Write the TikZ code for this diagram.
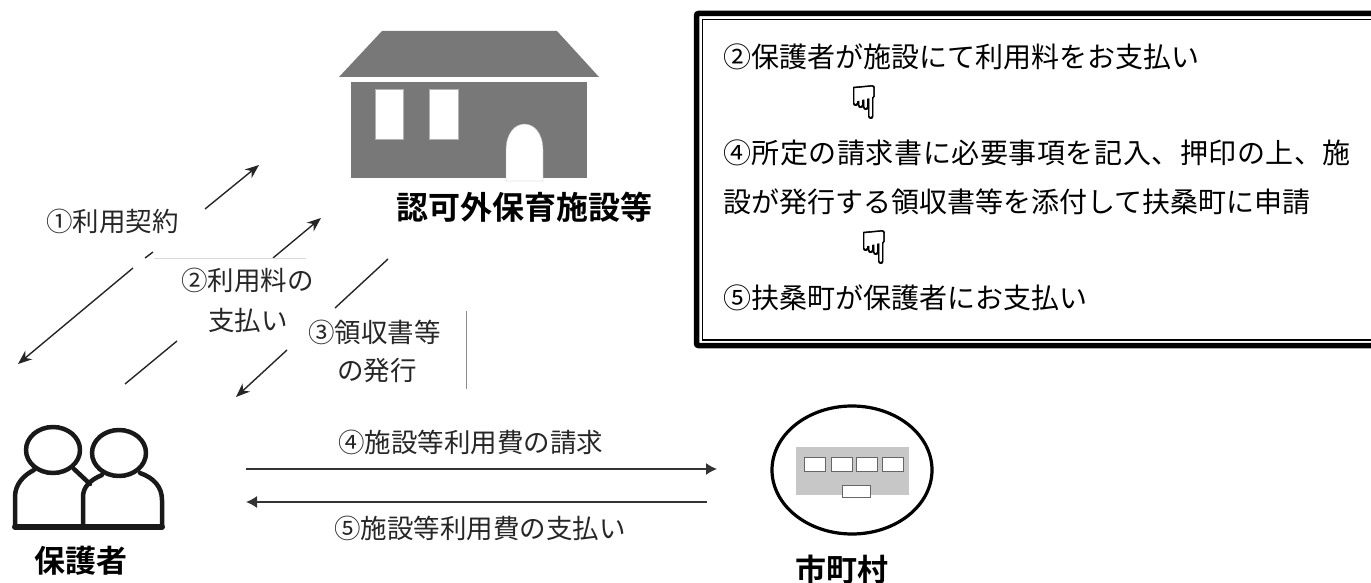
\documentclass[tikz,border=0pt]{standalone}
\usepackage{fontspec}
\newfontfamily\jp[BoldFont={Noto Sans CJK JP Bold}]{Noto Sans CJK JP}
\newfontfamily\handfont[FakeBold=1.2]{DejaVu Sans}
\usetikzlibrary{arrows.meta}
\tikzset{
  lbl/.style={inner sep=0pt,anchor=west,font=\jp\fontsize{26.5}{30}\selectfont,text=black!85},
  boxtext/.style={inner sep=0pt,anchor=west,font=\jp\fontsize{28}{30}\selectfont,text=black},
  title/.style={inner sep=0pt,anchor=west,font=\jp\bfseries\fontsize{32}{36}\selectfont},
  titlesm/.style={inner sep=0pt,anchor=west,font=\jp\bfseries\fontsize{31}{36}\selectfont},
  hand/.style={inner sep=0pt,font=\handfont\fontsize{46}{46}\selectfont},
  flow/.style={line width=1.4pt,draw=black!85},
  flowtip/.style={flow,-{Stealth[length=14pt,width=11pt]}},
  hflow/.style={line width=1.4pt,draw=black!80,-{Latex[length=11pt,width=12pt]}},
  house/.style={fill=black!53,draw=none},
  hole/.style={fill=white,draw=black!30,line width=.4pt},
  person/.style={line width=4.5pt,draw=black!90,line join=round},
  thin/.style={line width=.7pt,draw=black!45}
}
\begin{document}
\begin{tikzpicture}[x=1pt,y=-1pt]
\useasboundingbox (0,0) rectangle (1371,583);
% house
\fill[house] (382,31) -- (557,31) -- (599,77) -- (339,77) -- cycle;
\fill[house] (351,82) rectangle (587,178);
\filldraw[hole] (375,89) rectangle (403,139);
\filldraw[hole] (429,89) rectangle (458,139);
\filldraw[hole] (506,181) -- (506,150) .. controls (506,133) and (515,124) .. (524.5,124) .. controls (534,124) and (543,133) .. (543,150) -- (543,181) -- cycle;
\node[title] (fac) at (396,207) {認可外保育施設等};
% diagonal flows
\coordinate (a1s) at (205,209); \coordinate (a1e) at (259,165);
\coordinate (b1s) at (153,252); \coordinate (b1m) at (145,258);
\coordinate (b2s) at (133,268); \coordinate (b2e) at (18,364);
\coordinate (a2s) at (273,258); \coordinate (a2e) at (321,218);
\coordinate (c2s) at (177,341); \coordinate (c2e) at (125,384);
\coordinate (a3s) at (388,259); \coordinate (a3e) at (335,308);
\coordinate (d3s) at (287,350); \coordinate (d3e) at (236,397);
\draw[flowtip] (a1s) -- (a1e);
\draw[flow] (b1s) -- (b1m);
\draw[flowtip] (b2s) -- (b2e);
\draw[flowtip] (a2s) -- (a2e);
\draw[flow] (c2s) -- (c2e);
\draw[flow] (a3s) -- (a3e);
\draw[flowtip] (d3s) -- (d3e);
\coordinate (t1) at (154,258); \coordinate (t2) at (306,258);
\draw[draw=black!15,line width=.5pt] (t1) -- (t2);
\coordinate (v1) at (466,311); \coordinate (v2) at (466,389);
\draw[thin] (v1) -- (v2);
% labels
\node[lbl] (l1) at (46,221) {①利用契約};
\node[lbl] (l2) at (181,280) {②利用料の};
\node[lbl] (l2b) at (208,320) {支払い};
\node[lbl] (l3) at (308,332) {③領収書等};
\node[lbl] (l3b) at (337,370) {の発行};
% info box
\draw[line width=5.5pt,draw=black,rounded corners=2pt] (1378,13.5) -- (696.5,13.5) -- (696.5,345.5) -- (1378,345.5);
\draw[line width=1.3pt,draw=black] (1378,19.5) -- (702.5,19.5) -- (702.5,340) -- (1378,340);
\node[boxtext] (i1) at (723,57) {②保護者が施設にて利用料をお支払い};
\node[hand] (h1) at (864,102) {☟};
\node[boxtext] (i2) at (723,153) {\addfontfeature{LetterSpace=2}④所定の請求書に必要事項を記入、押印の上、施};
\node[boxtext] (i3) at (723,202) {設が発行する領収書等を添付して扶桑町に申請};
\node[hand] (h2) at (874,247) {☟};
\node[boxtext] (i4) at (723,298) {⑤扶桑町が保護者にお支払い};
% persons
\draw[person,line cap=round] (15,527) -- (15,497) .. controls (15,484) and (24,475) .. (34,470);
\draw[person,line cap=round] (74,469) -- (90,484);
\draw[person,fill=white] (53,450) ellipse (27 and 23);
\draw[person,line cap=round] (83,527) -- (83,497) .. controls (83,487) and (90,480) .. (102,475);
\draw[person,line cap=round] (140,473) .. controls (154,478) and (162,487) .. (162,500) -- (162,527);
\draw[person,fill=white] (119,453) ellipse (27 and 23);
\draw[line width=6pt,draw=black!90,line cap=round] (15,527) -- (162,527);
\node[titlesm] (guard) at (34,561) {保護者};
% horizontal flows
\coordinate (p4) at (246,469); \coordinate (m4) at (717,469);
\coordinate (m5) at (707,502); \coordinate (p5) at (246,502);
\draw[hflow] (p4) -- (m4);
\draw[hflow] (m5) -- (p5);
\node[lbl] (l4) at (338,442) {④施設等利用費の請求};
\node[lbl] (l5) at (334,528) {⑤施設等利用費の支払い};
% municipality
\draw[line width=3.2pt,draw=black] (852,470) ellipse (80 and 64);
\fill[black!22] (796,447) rectangle (909,495);
\filldraw[hole,draw=black!60] (804,457) rectangle (825,471);
\filldraw[hole,draw=black!60] (831,457) rectangle (852,471);
\filldraw[hole,draw=black!60] (856,457) rectangle (877,471);
\filldraw[hole,draw=black!60] (882,457) rectangle (903,471);
\filldraw[hole,draw=black!60] (842,485) rectangle (870,497);
\node[titlesm] (city) at (795,570) {市町村};
\end{tikzpicture}
\end{document}
